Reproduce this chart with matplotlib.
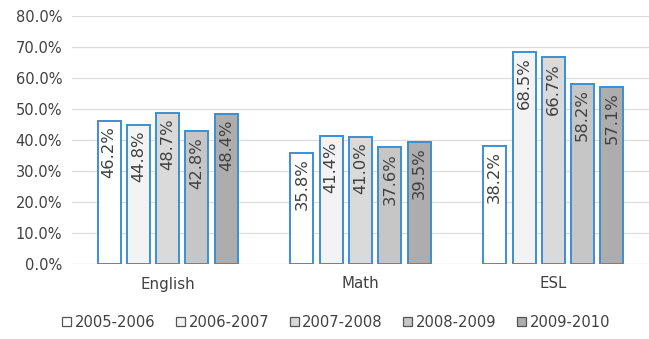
import matplotlib
matplotlib.use("Agg")
import matplotlib.pyplot as plt
from matplotlib.patches import Patch
import numpy as np

categories = ["English", "Math", "ESL"]
series_names = ["2005-2006", "2006-2007", "2007-2008", "2008-2009", "2009-2010"]
v_2005 = [46.2, 35.8, 38.2]
v_2006 = [44.8, 41.4, 68.5]
v_2007 = [48.7, 41.0, 66.7]
v_2008 = [42.8, 37.6, 58.2]
v_2009 = [48.4, 39.5, 57.1]
series_values = [v_2005, v_2006, v_2007, v_2008, v_2009]
y_ticks = [0, 10, 20, 30, 40, 50, 60, 70, 80]

fills = ["#ffffff", "#f3f3f3", "#dadada", "#c6c6c6", "#adadad"]
edge = "#3a8fd2"
text_color = "#404040"

plt.rcParams['font.family'] = ['DejaVu Sans']

fig = plt.figure(figsize=(6.49, 3.39), dpi=100)
ax = fig.add_axes([72/649, 75/339, 577/649, 248/339])

x = np.arange(len(categories))
pitch = 0.152
width = 0.119
for i, (name, vals) in enumerate(zip(series_names, series_values)):
    xs = x + (i - 2) * pitch
    bars = ax.bar(xs, vals, width=width, color=fills[i], edgecolor=edge,
                  linewidth=1.4, zorder=3)
    for xi, v in zip(xs, vals):
        ax.annotate(f"{v:.1f}%", (xi, v), xytext=(0, -4), textcoords="offset points",
                    rotation=90, ha="center", va="top", fontsize=11.8,
                    color=text_color, zorder=4)

ax.set_xlim(-0.496, 2.496)
ax.set_ylim(0, 80)
ax.set_yticks(y_ticks)
ax.set_yticklabels([f"{t:.1f}%" for t in y_ticks], fontsize=10.5, color=text_color)
ax.set_xticks(x)
ax.set_xticklabels(categories, fontsize=10.8, color=text_color)
ax.tick_params(axis="both", length=0)
ax.tick_params(axis="y", pad=7)
ax.tick_params(axis="x", pad=9)
ax.grid(axis="y", color="#dcdcdc", linewidth=0.9, zorder=0)
ax.set_axisbelow(True)
for s in ax.spines.values():
    s.set_visible(False)

handles = [Patch(facecolor=f, edgecolor="#555555", linewidth=0.9) for f in fills]
fig.legend(handles, series_names, loc="center", bbox_to_anchor=(0.518, 0.05),
           ncol=5, frameon=False, fontsize=10.6, handlelength=0.6, handleheight=0.6,
           handletextpad=0.25, columnspacing=1.4, labelcolor=text_color)

fig.savefig("out.png", dpi=100)
